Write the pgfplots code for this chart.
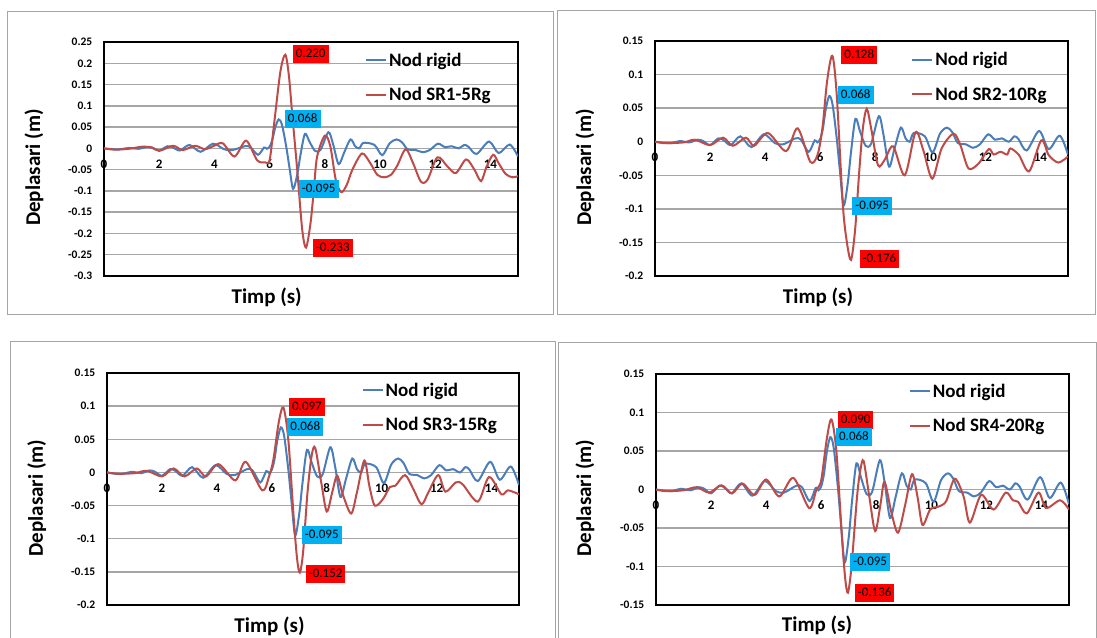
\documentclass[border=0pt]{standalone}
\usepackage{fontspec}
\setmainfont{Carlito}
\usepackage{pgfplots}
\usepackage{pgfplotstable}
\pgfplotsset{compat=1.18}

\definecolor{serblue}{RGB}{74,126,187}
\definecolor{serred}{RGB}{190,75,72}
\definecolor{lblred}{RGB}{255,0,0}
\definecolor{lblblue}{RGB}{0,176,240}
\definecolor{gridgray}{RGB}{166,166,166}
\definecolor{framegray}{RGB}{165,165,165}

% Nod rigid (same in all four panels)
\pgfplotstableread{
t v
0 0
0.3 -0.002
0.6 -0.002
0.9 0.001
1.25 -0.001
1.55 0.003
1.75 0.001
2.0 -0.005
2.3 0.005
2.5 0.002
2.75 -0.005
3.1 0.008
3.5 -0.008
3.95 0.011
4.35 -0.002
4.65 -0.004
5.1 0.005
5.3 0.003
5.58 -0.015
5.8 0.002
5.9 -0.001
6.0 0.004
6.1 0.02
6.2 0.048
6.33 0.068
6.45 0.055
6.6 0.005
6.72 -0.045
6.85 -0.095
7.0 -0.062
7.12 -0.015
7.28 0.034
7.45 0.015
7.65 -0.006
7.85 -0.003
8.13 0.038
8.3 0.01
8.5 -0.037
8.7 -0.01
8.93 0.021
9.1 0.005
9.25 0.0
9.4 0.013
9.8 0.008
10.08 -0.016
10.35 0.012
10.6 0.021
10.8 0.014
11.0 -0.002
11.3 -0.004
11.55 -0.009
11.8 -0.004
12.1 0.011
12.35 0.003
12.6 0.005
12.85 0.0
13.05 0.008
13.2 0.004
13.5 -0.013
13.95 0.016
14.3 -0.011
14.7 0.009
15.0 -0.019
}\rigid

\pgfplotstableread{
t v
0 0
0.4 -0.003
0.9 -0.001
1.4 0.004
1.75 0.002
2.0 -0.006
2.5 0.006
2.85 -0.004
3.3 0.006
3.65 -0.002
3.95 0.005
4.3 0.012
4.73 -0.019
5.15 0.018
5.55 -0.028
5.85 -0.033
6.0 -0.028
6.15 0.05
6.39 0.18
6.57 0.22
6.7 0.17
6.82 0.08
7.0 -0.05
7.18 -0.19
7.32 -0.233
7.48 -0.177
7.6 -0.1
7.72 -0.02
8.0 0.03
8.2 0.005
8.4 -0.075
8.6 -0.103
8.8 -0.085
9.0 -0.05
9.35 -0.012
9.65 -0.035
9.9 -0.062
10.15 -0.068
10.4 -0.062
10.63 -0.04
10.93 -0.002
11.2 -0.035
11.48 -0.078
11.72 -0.074
12.08 -0.021
12.45 -0.043
12.75 -0.058
13.12 -0.026
13.42 -0.05
13.66 -0.077
13.85 -0.045
14.1 -0.015
14.3 -0.035
14.55 -0.06
14.8 -0.068
15 -0.065
}\srone

\pgfplotstableread{
t v
0 0
0.42 -0.002
1.05 -0.001
1.45 0.003
2.0 -0.005
2.47 0.006
2.83 -0.006
3.3 0.006
3.6 -0.006
4.1 0.013
4.76 -0.014
5.18 0.02
5.64 -0.03
5.9 -0.02
6.08 0.02
6.25 0.09
6.44 0.128
6.6 0.07
6.82 -0.093
6.97 -0.15
7.12 -0.176
7.27 -0.13
7.42 -0.043
7.55 0.02
7.69 0.049
7.85 0.02
8.1 -0.035
8.34 -0.027
8.65 -0.007
9.07 -0.05
9.46 0.014
9.74 -0.012
10.07 -0.055
10.41 -0.01
10.84 0.012
11.09 -0.005
11.39 -0.04
11.76 -0.032
12.12 -0.011
12.3 -0.019
12.55 -0.015
12.79 -0.019
12.91 -0.01
13.22 -0.02
13.59 -0.044
14.03 0.002
14.3 -0.02
14.65 -0.031
15 -0.022
}\srtwo

\pgfplotstableread{
t v
0 0
0.42 -0.002
1.03 -0.001
1.45 0.0025
2.0 -0.006
2.42 0.006
2.82 -0.006
3.27 0.006
3.6 -0.006
4.06 0.0125
4.67 -0.012
5.05 0.016
5.65 -0.027
5.9 -0.006
6.06 0.02
6.25 0.075
6.42 0.098
6.6 0.05
6.8 -0.07
6.92 -0.13
7.02 -0.151
7.14 -0.12
7.3 -0.03
7.45 0.025
7.58 0.037
7.8 -0.015
8.0 -0.059
8.2 -0.03
8.38 -0.005
8.6 -0.035
8.89 -0.062
9.1 -0.03
9.37 0.018
9.55 -0.02
9.75 -0.05
10.05 -0.04
10.3 -0.022
10.5 -0.02
10.85 -0.004
11.15 -0.025
11.45 -0.048
11.7 -0.03
12.06 -0.004
12.32 -0.029
12.7 -0.015
12.95 -0.018
13.5 -0.044
13.91 -0.007
14.36 -0.033
14.6 -0.027
15 -0.033
}\srthree

\pgfplotstableread{
t v
0 0
0.45 -0.002
1.0 -0.001
1.48 0.003
1.93 -0.004
2.38 0.0055
2.76 -0.005
3.14 0.0077
3.58 -0.007
4.0 0.013
4.48 -0.009
4.99 0.015
5.56 -0.024
5.82 -0.001
6.0 0.012
6.2 0.065
6.37 0.091
6.55 0.05
6.75 -0.06
6.87 -0.115
6.97 -0.134
7.1 -0.1
7.3 -0.01
7.42 0.025
7.54 0.037
7.75 -0.01
7.96 -0.054
8.15 -0.02
8.3 0.01
8.55 -0.03
8.79 -0.056
9.05 -0.02
9.3 0.02
9.5 -0.01
9.68 -0.046
9.96 -0.026
10.28 -0.022
10.54 -0.015
10.85 0.014
11.17 -0.009
11.4 -0.043
11.81 -0.007
12.26 -0.026
12.7 -0.004
12.96 -0.014
13.15 -0.016
13.47 -0.031
13.89 -0.004
14.17 -0.024
14.68 -0.014
15 -0.026
}\srfour

\pgfplotsset{
  panel/.style={
    scale only axis,
    xmin=0, xmax=15,
    xtick={0,2,4,6,8,10,12,14},
    xticklabels={0,2,4,6,8,10,12,14},
    major tick length=0pt,
    ymajorgrids,
    major grid style={gridgray, line width=1.4pt},
    axis line style={black, line width=1.3pt},
    yticklabel style={font=\fontsize{11.5}{13}\selectfont\bfseries, inner sep=0pt,
      anchor=east, xshift=-11.5pt},
    xticklabel style={font=\fontsize{13}{14}\selectfont\bfseries, inner sep=0pt},
    legend style={draw=none, fill=none, inner sep=0pt, anchor=north west,
      font=\fontsize{19}{19}\selectfont\bfseries,
      row sep=17.5pt, column sep=2pt,
      cells={anchor=base west},
      nodes={inner sep=0pt, text height=13pt, text depth=4pt}},
    legend image code/.code={\draw[#1] (0pt,6pt) -- (20pt,6pt);},
  },
  rigidline/.style={serblue, line width=2pt, smooth, no markers},
  srline/.style={serred, line width=2pt, smooth, no markers},
}
\tikzset{
  lblR/.style={fill=lblred, text=black, font=\fontsize{13}{13}\selectfont,
    inner xsep=3pt, inner ysep=3pt, text height=9.5pt, text depth=2.5pt},
  lblB/.style={lblR, fill=lblblue},
}

\newcommand\axtitle{\fontsize{21}{21}\selectfont\bfseries}

\begin{document}
\begin{tikzpicture}[x=1pt, y=1pt]
\useasboundingbox (0,0) rectangle (1097,-637);

% panel frames
\draw[framegray, line width=1pt] (7,-11) rectangle (553,-314);
\draw[framegray, line width=1pt] (557,-10) rectangle (1095,-314);
\draw[framegray, line width=1pt] (10,-341) rectangle (555,-660);
\draw[framegray, line width=1pt] (558,-342) rectangle (1096,-660);

% panel 1
\begin{axis}[panel, at={(104pt,-276pt)}, anchor=south west, width=414pt, height=234pt,
  ymin=-0.3, ymax=0.25,
  ytick={-0.3,-0.25,-0.2,-0.15,-0.1,-0.05,0,0.05,0.1,0.15,0.2,0.25},
  yticklabels={-0.3,-0.25,-0.2,-0.15,-0.1,-0.05,0,0.05,0.1,0.15,0.2,0.25},
  xticklabel style={yshift=116.6pt},
  legend style={at={(0.630,0.9526)}}]
\addplot[rigidline] table[x=t, y=v] {\rigid};
\addlegendentry{Nod rigid}
\addplot[srline] table[x=t, y=v] {\srone};
\addlegendentry{Nod SR1-5Rg}
\node[lblR] at (axis cs:7.49,0.221) {0.220};
\node[lblB] at (axis cs:7.2,0.068) {0.068};
\node[lblB] at (axis cs:7.78,-0.096) {-0.095};
\node[lblR] at (axis cs:8.29,-0.235) {-0.233};
\end{axis}
\node[rotate=90, inner sep=0pt, font=\axtitle] at (34,-167.5) {Deplasari (m)};
\node[inner sep=0pt, font=\axtitle] at (266.7,-297.7) {Timp (s)};

% panel 2
\begin{axis}[panel, at={(655pt,-276pt)}, anchor=south west, width=413pt, height=235pt,
  ymin=-0.2, ymax=0.15,
  ytick={-0.2,-0.15,-0.1,-0.05,0,0.05,0.1,0.15},
  yticklabels={-0.2,-0.15,-0.1,-0.05,0,0.05,0.1,0.15},
  xticklabel style={yshift=123.3pt},
  legend style={at={(0.620,0.9515)}}]
\addplot[rigidline] table[x=t, y=v] {\rigid};
\addlegendentry{Nod rigid}
\addplot[srline] table[x=t, y=v] {\srtwo};
\addlegendentry{Nod SR2-10Rg}
\node[lblR] at (axis cs:7.42,0.129) {0.128};
\node[lblB] at (axis cs:7.29,0.069) {0.068};
\node[lblB] at (axis cs:7.89,-0.095) {-0.095};
\node[lblR] at (axis cs:8.15,-0.175) {-0.176};
\end{axis}
\node[rotate=90, inner sep=0pt, font=\axtitle] at (585,-167.5) {Deplasari (m)};
\node[inner sep=0pt, font=\axtitle] at (818,-297.7) {Timp (s)};

% panel 3
\begin{axis}[panel, at={(107pt,-605pt)}, anchor=south west, width=412pt, height=232pt,
  ymin=-0.2, ymax=0.15,
  ytick={-0.2,-0.15,-0.1,-0.05,0,0.05,0.1,0.15},
  yticklabels={-0.2,-0.15,-0.1,-0.05,0,0.05,0.1,0.15},
  xticklabel style={yshift=121.6pt},
  legend style={at={(0.6175,0.9565)}}]
\addplot[rigidline] table[x=t, y=v] {\rigid};
\addlegendentry{Nod rigid}
\addplot[srline] table[x=t, y=v] {\srthree};
\addlegendentry{Nod SR3-15Rg}
\node[lblR] at (axis cs:7.28,0.099) {0.097};
\node[lblB] at (axis cs:7.22,0.069) {0.068};
\node[lblB] at (axis cs:7.82,-0.095) {-0.095};
\node[lblR] at (axis cs:7.96,-0.153) {-0.152};
\end{axis}
\node[rotate=90, inner sep=0pt, font=\axtitle] at (36.8,-498) {Deplasari (m)};
\node[inner sep=0pt, font=\axtitle] at (269.5,-626) {Timp (s)};

% panel 4
\begin{axis}[panel, at={(656pt,-605pt)}, anchor=south west, width=413pt, height=231pt,
  ymin=-0.15, ymax=0.15,
  ytick={-0.15,-0.1,-0.05,0,0.05,0.1,0.15},
  yticklabels={-0.15,-0.1,-0.05,0,0.05,0.1,0.15},
  xticklabel style={yshift=104.5pt},
  legend style={at={(0.612,0.9563)}}]
\addplot[rigidline] table[x=t, y=v] {\rigid};
\addlegendentry{Nod rigid}
\addplot[srline] table[x=t, y=v] {\srfour};
\addlegendentry{Nod SR4-20Rg}
\node[lblR] at (axis cs:7.25,0.0905) {0.090};
\node[lblB] at (axis cs:7.19,0.068) {0.068};
\node[lblB] at (axis cs:7.78,-0.0935) {-0.095};
\node[lblR] at (axis cs:7.94,-0.135) {-0.136};
\end{axis}
\node[rotate=90, inner sep=0pt, font=\axtitle] at (585,-498) {Deplasari (m)};
\node[inner sep=0pt, font=\axtitle] at (817,-625.7) {Timp (s)};
\end{tikzpicture}
\end{document}
